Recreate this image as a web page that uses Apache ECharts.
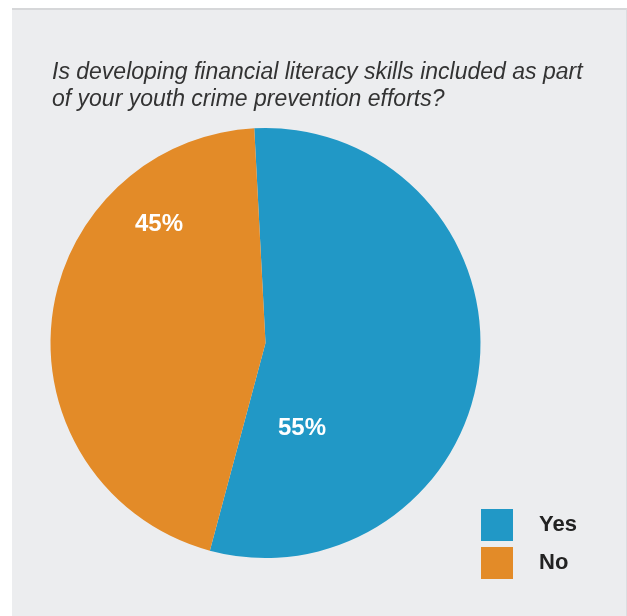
<!DOCTYPE html>
<html>
<head>
<meta charset="utf-8">
<script src="https://cdn.jsdelivr.net/npm/echarts@6/dist/echarts.min.js"></script>
<style>
  html, body { margin: 0; padding: 0; background: #ffffff; }
  #frame {
    position: absolute; left: 12px; top: 8px; width: 614px; height: 608px;
    background: #ecedef; border-top: 2px solid #d6d7d9; border-right: 1px solid #dcdde0;
  }
  #chart { position: absolute; left: 0; top: 0; width: 627px; height: 616px; }
</style>
</head>
<body>
<div id="frame"></div>
<div id="chart"></div>
<script>
const titleText = 'Is developing financial literacy skills included as part\nof your youth crime prevention efforts?';
const categories = ['Yes', 'No'];
const shares = [55, 45];
const sliceColors = ['#2198c6', '#e38b28'];

const chart = echarts.init(document.getElementById('chart'));

// label spots as in the original layout
const labelSpots = [[302, 428], [159, 224]];

chart.setOption({
  backgroundColor: 'transparent',
  title: {
    text: titleText,
    left: 47,
    top: 54,
    textStyle: {
      fontFamily: 'Liberation Sans',
      fontStyle: 'italic',
      fontWeight: 'normal',
      fontSize: 23,
      lineHeight: 27,
      color: '#333333'
    }
  },
  legend: {
    orient: 'vertical',
    left: 481,
    top: 509,
    padding: 0,
    itemWidth: 32,
    itemHeight: 32,
    itemGap: 6,
    icon: 'rect',
    data: categories,
    textStyle: {
      fontFamily: 'Liberation Sans',
      fontWeight: 'bold',
      fontSize: 22,
      color: '#222222',
      padding: [0, 0, 0, 21]
    }
  },
  series: [{
    type: 'pie',
    center: [265.5, 343],
    radius: [0, 215],
    startAngle: 93,
    clockwise: true,
    silent: true,
    itemStyle: { borderWidth: 0 },
    label: {
      show: true,
      position: 'inside',
      formatter: '{c}%',
      fontFamily: 'Liberation Sans',
      fontWeight: 'bold',
      fontSize: 24,
      color: '#ffffff'
    },
    labelLine: { show: false },
    labelLayout: function (params) {
      const p = labelSpots[params.dataIndex];
      return { x: p[0], y: p[1], align: 'center', verticalAlign: 'middle' };
    },
    data: categories.map((c, i) => ({
      name: c,
      value: shares[i],
      itemStyle: { color: sliceColors[i] }
    }))
  }]
});
</script>
</body>
</html>
